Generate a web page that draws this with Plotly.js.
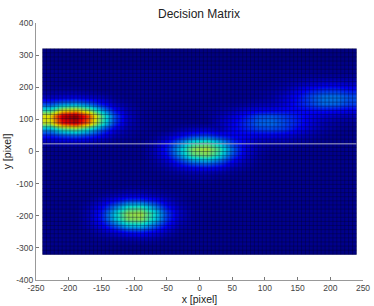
<!DOCTYPE html>
<html>
<head>
<meta charset="utf-8">
<script src="https://cdn.plot.ly/plotly-3.0.1.min.js"></script>
<style>html,body{margin:0;padding:0;background:#fff}</style>
</head>
<body>
<div id="chart" style="width:374px;height:306px"></div>
<script>
const xCenters = [-230,-210,-190,-170,-150,-130,-110,-90,-70,-50,-30,-10,10,30,50,70,90,110,130,150,170,190,210,230];
const yCenters = [-310,-290,-270,-250,-230,-210,-190,-170,-150,-130,-110,-90,-70,-50,-30,-10,10,30,50,70,90,110,130,150,170,190,210,230,250,270,290,310];
const rowM310 = [4,4,4,4,4,4,4,4,4,4,4,4,4,4,4,4,4,4,4,4,4,4,4,4];
const rowM290 = [5,5,5,5,5,5,5,5,5,5,5,5,5,5,5,5,5,5,5,5,5,5,5,5];
const rowM270 = [5,5,5,5,6,7,8,9,8,6,5,5,5,5,5,5,5,5,5,5,5,5,5,5];
const rowM250 = [5,5,5,6,9,13,18,19,15,10,6,5,5,5,5,5,5,5,5,5,5,5,5,5];
const rowM230 = [5,5,5,8,14,25,36,37,27,16,8,6,5,5,5,5,5,5,5,5,5,5,5,5];
const rowM210 = [5,5,5,9,19,37,53,55,40,22,10,6,5,5,5,5,5,5,5,5,5,5,5,5];
const rowM190 = [5,5,5,9,19,38,55,57,42,23,11,6,5,5,5,5,5,5,5,5,5,5,5,5];
const rowM170 = [5,5,5,8,15,27,39,41,30,17,9,6,5,5,5,5,5,5,5,5,5,5,5,5];
const rowM150 = [5,5,5,6,10,15,21,21,17,11,7,5,5,5,5,5,5,5,5,5,5,5,5,5];
const rowM130 = [5,5,5,5,6,8,10,10,8,7,6,5,5,5,5,5,5,5,5,5,5,5,5,5];
const rowM110 = [5,5,5,5,5,5,6,6,6,5,5,5,5,5,5,5,5,5,5,5,5,5,5,5];
const rowM90  = [5,5,5,5,5,5,5,5,5,5,5,6,6,5,5,5,5,5,5,5,5,5,5,5];
const rowM70  = [5,5,5,5,5,5,5,5,5,6,7,8,8,7,6,5,5,5,5,5,5,5,5,5];
const rowM50  = [5,5,5,5,5,5,5,5,6,8,12,15,16,14,9,7,5,5,5,5,5,5,5,5];
const rowM30  = [5,5,5,5,5,5,5,5,7,12,22,31,34,27,16,9,6,5,5,5,5,5,5,5];
const rowM10  = [5,5,5,5,5,5,5,5,9,17,33,49,53,42,24,12,7,5,5,5,5,5,5,5];
const rowP10  = [5,5,5,5,5,5,5,5,9,19,36,54,58,46,27,13,8,6,6,5,5,5,5,5];
const rowP30  = [9,10,10,9,7,6,5,5,8,15,28,41,45,35,21,13,9,8,8,7,6,5,5,5];
const rowP50  = [18,23,25,21,15,9,7,5,6,10,16,22,24,19,16,15,14,14,13,10,8,6,5,5];
const rowP70  = [34,48,52,42,27,14,8,6,5,5,8,10,11,9,15,19,23,24,22,16,11,8,6,5];
const rowP90  = [60,87,93,75,46,22,10,6,5,5,5,5,5,10,15,21,27,28,24,19,13,9,7,6];
const rowP110 = [65,94,100,81,49,24,11,6,5,5,5,5,6,9,13,18,24,25,22,18,14,12,10,9];
const rowP130 = [43,61,65,53,33,17,9,6,5,5,5,5,6,7,9,12,14,15,16,16,17,18,17,15];
const rowP150 = [24,31,33,27,18,10,7,5,5,5,5,5,5,6,6,7,9,10,13,18,23,28,27,23];
const rowP170 = [10,12,13,11,9,6,5,5,5,5,5,5,5,5,5,5,6,8,12,17,24,29,29,25];
const rowP190 = [6,7,7,6,5,5,5,5,5,5,5,5,5,5,5,5,6,7,9,14,19,22,22,19];
const rowP210 = [5,5,5,5,5,5,5,5,5,5,5,5,5,5,5,5,5,6,7,9,11,13,13,11];
const rowP230 = [5,5,5,5,5,5,5,5,5,5,5,5,5,5,5,5,5,5,6,6,7,7,7,7];
const rowP250 = [5,5,5,5,5,5,5,5,5,5,5,5,5,5,5,5,5,5,5,5,5,5,5,5];
const rowP270 = [4,4,4,4,4,4,4,4,4,4,4,4,4,4,4,4,4,4,5,5,5,5,5,5];
const rowP290 = [4,4,4,4,4,4,4,4,4,4,4,4,4,4,4,4,4,4,4,4,4,4,4,4];
const rowP310 = [4,4,4,4,4,4,4,4,4,4,4,4,4,4,4,4,4,4,4,4,4,4,4,4];
const zRows = [rowM310,rowM290,rowM270,rowM250,rowM230,rowM210,rowM190,rowM170,rowM150,rowM130,rowM110,rowM90,rowM70,rowM50,rowM30,rowM10,rowP10,rowP30,rowP50,rowP70,rowP90,rowP110,rowP130,rowP150,rowP170,rowP190,rowP210,rowP230,rowP250,rowP270,rowP290,rowP310];
const xTickVals = [-250,-200,-150,-100,-50,0,50,100,150,200,250];
const yTickVals = [-400,-300,-200,-100,0,100,200,300,400];
const lineX = [-240,240];
const lineY = [24,24];
const gridStepX = 6, gridStepY = 12.8, extentX = 240, extentY = 320;

const jet = [[0,'rgb(0,0,130)'],[0.125,'rgb(0,0,245)'],[0.375,'rgb(0,215,215)'],[0.625,'rgb(225,225,0)'],[0.875,'rgb(240,0,0)'],[1,'rgb(128,0,0)']];

const gx=[],gy=[];
for(let v=-extentX;v<=extentX+0.01;v+=gridStepX){gx.push(v,v,null);gy.push(-extentY,extentY,null);}
for(let v=-extentY;v<=extentY+0.01;v+=gridStepY){gx.push(-extentX,extentX,null);gy.push(v,v,null);}

const axisBase = {
  showgrid:false, zeroline:false, showline:true, linecolor:'#999', linewidth:1,
  ticks:'inside', ticklen:3, tickcolor:'#777', tickwidth:1,
  tickfont:{family:'Liberation Sans, Arial, sans-serif', size:8.5, color:'#444'}
};
const data = [
  {type:'heatmap', x:xCenters, y:yCenters, z:zRows, zmin:4, zmax:100, zsmooth:'best', colorscale:jet, showscale:false, hoverinfo:'skip'},
  {type:'scatter', mode:'lines', x:gx, y:gy, line:{color:'rgba(0,0,40,0.35)', width:1}, hoverinfo:'skip', showlegend:false},
  {type:'scatter', mode:'lines', x:lineX, y:lineY, line:{color:'rgba(190,190,215,0.6)', width:1.4}, hoverinfo:'skip', showlegend:false}
];
const layout = {
  width:374, height:306,
  margin:{l:35.7,r:11,t:22.7,b:25.7},
  paper_bgcolor:'#fff', plot_bgcolor:'#fff',
  showlegend:false,
  title:{text:'Decision Matrix', font:{family:'Liberation Sans, Arial, sans-serif', size:12, color:'#222'}, x:199/374, xanchor:'center', y:0.955, yanchor:'middle'},
  xaxis:Object.assign({}, axisBase, {range:[-250,250], tickvals:xTickVals, ticktext:xTickVals.map(String), tickangle:0,
    title:{text:'x [pixel]', font:{family:'Liberation Sans, Arial, sans-serif', size:10.5, color:'#222'}, standoff:2}}),
  yaxis:Object.assign({}, axisBase, {range:[-400,400], tickvals:yTickVals, ticktext:yTickVals.map(String),
    title:{text:'y [pixel]', font:{family:'Liberation Sans, Arial, sans-serif', size:10.5, color:'#222'}, standoff:2}})
};
Plotly.newPlot('chart', data, layout, {displayModeBar:false, staticPlot:true});
</script>
</body>
</html>
